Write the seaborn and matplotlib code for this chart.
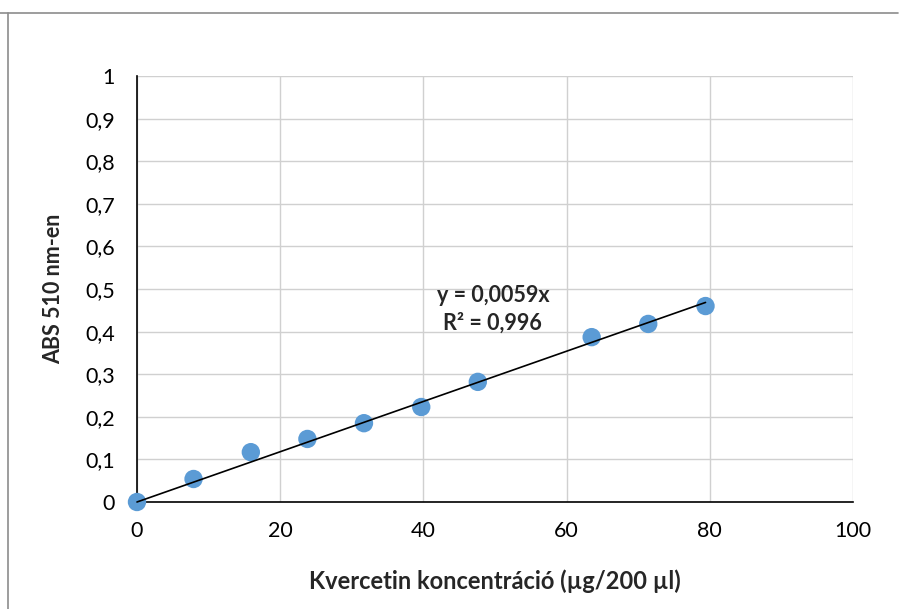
import matplotlib
matplotlib.use("Agg")
import matplotlib.pyplot as plt
from matplotlib.lines import Line2D
import seaborn as sns
import numpy as np
import pandas as pd

# Calibration data: quercetin concentration vs absorbance at 510 nm
concentration = [0, 7.9, 15.9, 23.8, 31.7, 39.7, 47.6, 63.5, 71.4, 79.4]
absorbance = [0.0, 0.054, 0.117, 0.148, 0.185, 0.223, 0.282, 0.387, 0.418, 0.460]
slope = 0.0059
r_squared = 0.996

x_ticks = [0, 20, 40, 60, 80, 100]
y_ticks = [0, 0.1, 0.2, 0.3, 0.4, 0.5, 0.6, 0.7, 0.8, 0.9, 1.0]

sns.set_style("white")
plt.rcParams["font.family"] = ["Lato", "DejaVu Sans"]

df = pd.DataFrame({"conc": concentration, "abs": absorbance})
fit_x = np.array([0, max(concentration)])
fit = pd.DataFrame({"conc": fit_x, "abs": slope * fit_x})

fig = plt.figure(figsize=(9, 6.09), dpi=100)
ax = fig.add_axes([0.1522, 0.1757, 0.7956, 0.6995])

sns.scatterplot(data=df, x="conc", y="abs", ax=ax, s=175, color="#5B9BD5",
                edgecolor="none", zorder=3, clip_on=False)
sns.lineplot(data=fit, x="conc", y="abs", ax=ax, color="black", lw=1.2,
             zorder=4, clip_on=False)

ax.set_xlim(0, 100)
ax.set_ylim(0, 1)
ax.set_xticks(x_ticks)
ax.set_yticks(y_ticks)
ax.set_xticklabels([str(t) for t in x_ticks])
ax.set_yticklabels([("%g" % t).replace(".", ",") for t in y_ticks])
ax.tick_params(axis="both", labelsize=15.5, colors="black")
ax.tick_params(axis="y", direction="out", length=6, width=1.2, pad=10)
ax.tick_params(axis="x", length=0, pad=14)

ax.grid(True, color="#d0d0d0", lw=1)
ax.set_axisbelow(True)
for side in ["top", "right"]:
    ax.spines[side].set_visible(False)
ax.spines["left"].set_color("black")
ax.spines["bottom"].set_color("black")
ax.spines["left"].set_linewidth(1.2)
ax.spines["bottom"].set_linewidth(1.2)

ax.set_xlabel("Kvercetin koncentráció (µg/200 µl)", fontsize=17, fontweight="bold", labelpad=20)
ax.set_ylabel("ABS 510 nm-en", fontsize=15.5, fontweight="bold", labelpad=15)

eq_text = "y = %sx\nR² = %s" % (("%g" % slope).replace(".", ","), ("%g" % r_squared).replace(".", ","))
ax.text(49.7, 0.452, eq_text, fontsize=15.5, fontweight="bold", ha="center", va="center",
        linespacing=1.4)

# Chart area frame
fig.add_artist(Line2D([0, 0.998], [0.9787, 0.9787], transform=fig.transFigure,
                      color="#8c8c8c", lw=1.2))
fig.add_artist(Line2D([0.0089, 0.0089], [0, 0.9787], transform=fig.transFigure,
                      color="#8c8c8c", lw=1.2))

fig.savefig("out.png", dpi=100)
